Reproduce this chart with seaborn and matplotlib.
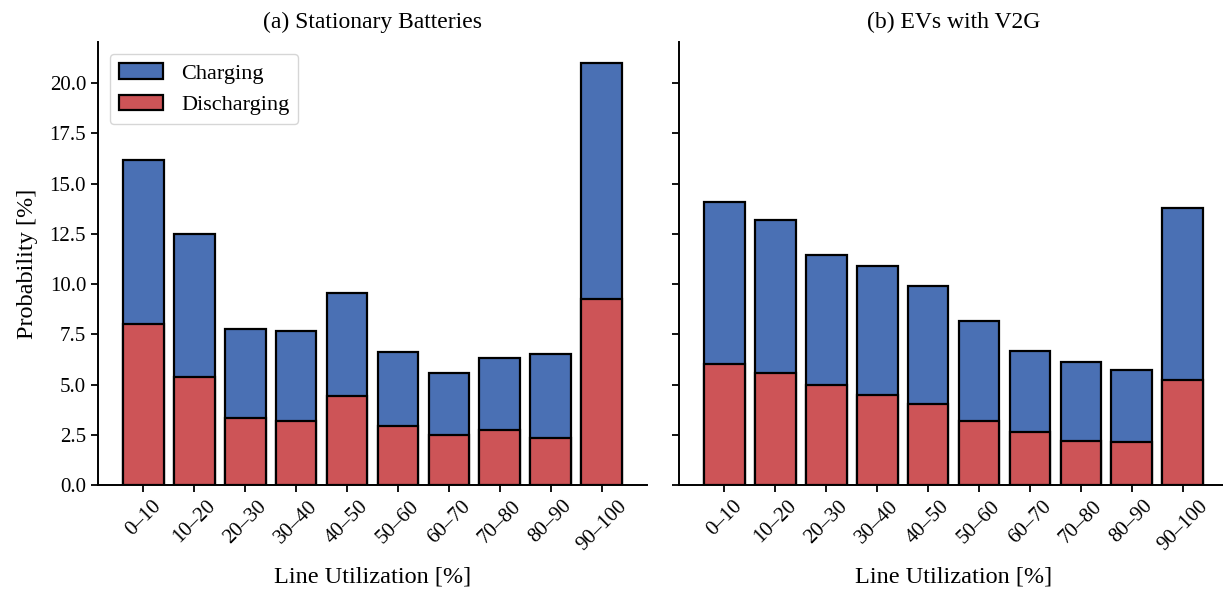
import numpy as np
import pandas as pd
import matplotlib
matplotlib.use("Agg")
import matplotlib.pyplot as plt
import seaborn as sns

categories = ["0–10", "10–20", "20–30", "30–40", "40–50",
              "50–60", "60–70", "70–80", "80–90", "90–100"]

# (a) Stationary Batteries
sb_discharging = [8.0, 5.37, 3.35, 3.17, 4.45, 2.95, 2.47, 2.72, 2.32, 9.25]
sb_total = [16.2, 12.47, 7.75, 7.67, 9.55, 6.63, 5.55, 6.32, 6.5, 21.0]
sb_charging = [t - d for t, d in zip(sb_total, sb_discharging)]

# (b) EVs with V2G
ev_discharging = [6.03, 5.57, 5.0, 4.5, 4.03, 3.17, 2.62, 2.2, 2.13, 5.22]
ev_total = [14.08, 13.2, 11.45, 10.9, 9.9, 8.15, 6.65, 6.12, 5.72, 13.8]
ev_charging = [t - d for t, d in zip(ev_total, ev_discharging)]

titles = ["(a) Stationary Batteries", "(b) EVs with V2G"]
blue = "#4A70B4"
red = "#CD5457"

sns.set_style("ticks")
plt.rcParams["font.family"] = ["Liberation Serif", "DejaVu Serif"]
plt.rcParams.update({
    "text.color": "black", "axes.labelcolor": "black",
    "xtick.color": "black", "ytick.color": "black",
    "axes.edgecolor": "black",
})

fig = plt.figure(figsize=(12.23, 5.94), dpi=100)
ax1 = fig.add_axes([0.0801, 0.1835, 0.449, 0.7458])
ax2 = fig.add_axes([0.5552, 0.1835, 0.449, 0.7458], sharey=ax1)

datasets = [(sb_charging, sb_discharging), (ev_charging, ev_discharging)]
for ax, (chg, dis), title in zip([ax1, ax2], datasets, titles):
    df = pd.DataFrame({"cat": categories, "charging": chg, "discharging": dis})
    df["total"] = df["charging"] + df["discharging"]
    sns.barplot(data=df, x="cat", y="total", color=blue, saturation=1,
                edgecolor="black", linewidth=1.6, width=0.8, ax=ax,
                label="Charging")
    sns.barplot(data=df, x="cat", y="discharging", color=red, saturation=1,
                edgecolor="black", linewidth=1.6, width=0.8, ax=ax,
                label="Discharging")
    ax.set_xlim(-0.89, 9.89)
    ax.set_title(title, fontsize=17, pad=10)
    ax.set_xlabel("Line Utilization [%]", fontsize=17.5, labelpad=9)
    ax.tick_params(axis="x", rotation=45, labelsize=15, length=5, width=1.3)
    ax.tick_params(axis="y", labelsize=15, length=5, width=1.3)
    for lab in ax.get_xticklabels():
        lab.set_ha("center")
    for sp in ["left", "bottom"]:
        ax.spines[sp].set_linewidth(1.4)
    sns.despine(ax=ax)
    if ax.get_legend() is not None:
        ax.get_legend().remove()

ax1.set_ylim(0, 22.05)
ax1.set_yticks(np.arange(0, 22.5, 2.5))
ax1.set_ylabel("Probability [%]", fontsize=17.5, labelpad=8)
ax2.set_ylabel("")
plt.setp(ax2.get_yticklabels(), visible=False)

handles, labels = ax1.get_legend_handles_labels()
ax1.legend(handles[:2], labels[:2], loc="upper left", fontsize=16,
           handlelength=2.0, handleheight=0.72, handletextpad=0.8,
           frameon=True, borderpad=0.4, borderaxespad=0,
           bbox_to_anchor=(0.022, 0.973))

fig.savefig("out.png", dpi=100)
